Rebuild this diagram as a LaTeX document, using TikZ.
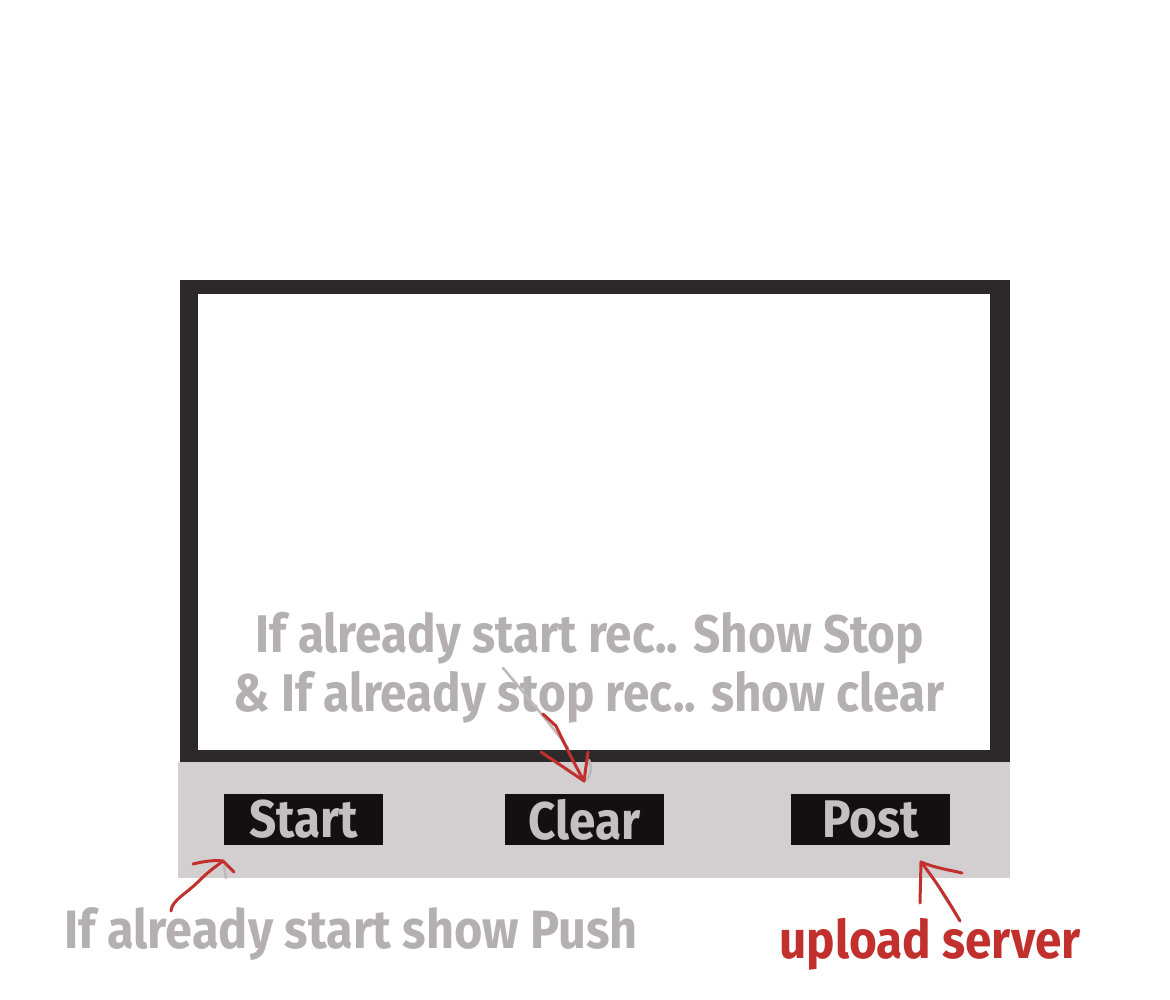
\documentclass[tikz,border=0pt]{standalone}
\usepackage{fontspec}
\setmainfont{Fira Sans}[FakeStretch=0.9]
\usetikzlibrary{positioning}
\definecolor{framedark}{HTML}{2D292A}
\definecolor{bargray}{HTML}{D3CFD0}
\definecolor{btnblack}{HTML}{141011}
\definecolor{btntext}{HTML}{C4C0C1}
\definecolor{hintgray}{HTML}{B4B0B1}
\definecolor{penred}{HTML}{C2302E}
\definecolor{smudgegray}{HTML}{BDB9BA}
\begin{document}
\begin{tikzpicture}[x=1pt,y=-1pt]
\tikzstyle{every node}=[font=\fontsize{53}{55}\selectfont\bfseries];
\tikzstyle{button}=[fill=btnblack,text=btntext,minimum width=159pt,minimum height=51pt,inner sep=0pt];
\tikzstyle{hint}=[text=hintgray,anchor=base,inner sep=0pt];
\tikzstyle{pen}=[draw=penred,line width=3pt,line cap=round,line join=round];
\tikzstyle{smudge}=[draw=smudgegray,line width=2.5pt,line cap=round];

\useasboundingbox (0,0) rectangle (1170,1000);
\fill[white] (0,0) rectangle (1170,1000);

% screen
\fill[framedark] (180,280) rectangle (1010,762);
\fill[white] (198,294) rectangle (990,750);
% button bar
\fill[bargray] (178,762) rectangle (1010,878);

\path (303.5,819.5) node[button] (start) {Start};
\path (584.5,819.5) node[button] (clear) {Clear};
\path (870.5,819.5) node[button] (post) {Post};

\path (590,652) node[hint] (stopline) {If already start rec.. Show Stop};
\path (589,711) node[hint] (clearline) {\& If already stop rec.. show clear};
\path (351,948) node[hint,font=\fontsize{54}{56}\selectfont\bfseries] (pushline) {If already start show Push};
\path (930,958) node[hint,text=penred] (uploadline) {upload server};

% arrows
\coordinate (clearfrom) at (543,714);
\coordinate (cleartip) at (584,781);
\coordinate (startfrom) at (171,911);
\coordinate (starttip) at (223,861);
\coordinate (postfrom) at (960,921);
\coordinate (posttip) at (921,862);

\draw[smudge] (503,668) .. controls (530,700) and (555,730) .. (568,748);
\draw[smudge] (589,760) .. controls (593,770) and (590,778) .. (cleartip);
\draw[pen] (clearfrom) -- (556,726) .. controls (565,745) and (575,765) .. (cleartip);
\draw[pen] (541,752) -- (cleartip) -- (588,752);

\draw[smudge] (224,866) -- (226,878);
\draw[pen] (startfrom) .. controls (172,900) and (185,895) .. (200,880) .. controls (210,870) and (218,865) .. (starttip);
\draw[pen] (193,864) .. controls (205,861) and (215,860) .. (starttip) -- (234,872);

\draw[smudge] (938,885) .. controls (945,900) and (955,912) .. (postfrom);
\draw[pen] (postfrom) .. controls (948,900) and (935,880) .. (posttip);
\draw[pen] (920,903) -- (posttip) .. controls (935,868) and (950,870) .. (962,873);
\end{tikzpicture}
\end{document}
